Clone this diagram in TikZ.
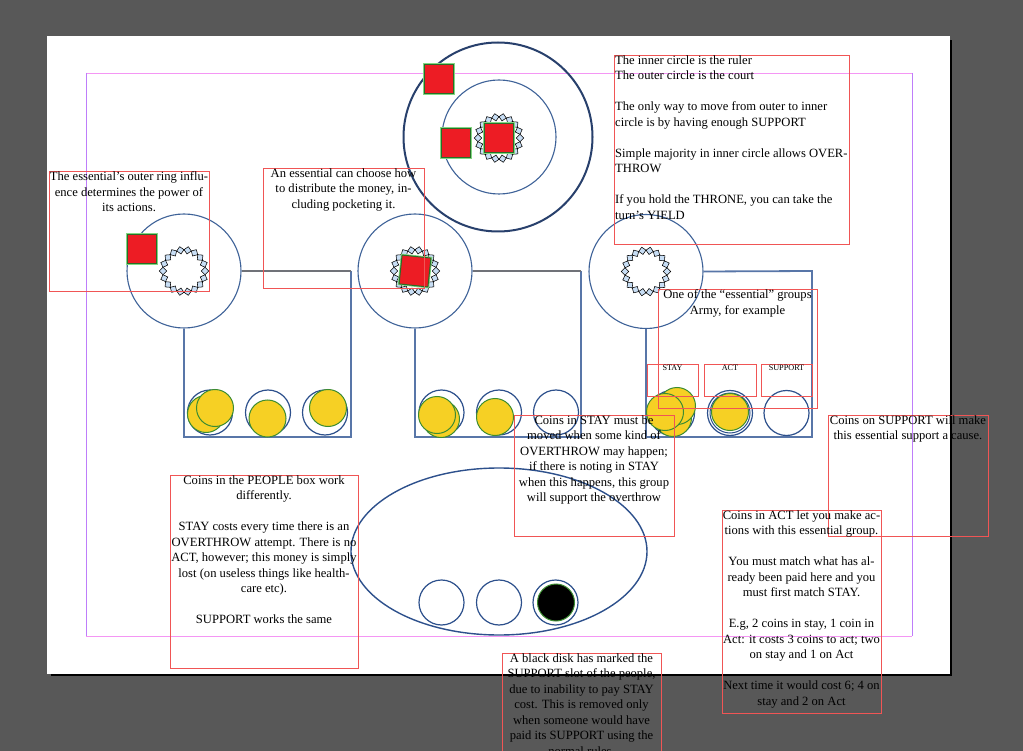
\documentclass[tikz,border=0pt]{standalone}
\usepackage{fontspec}
\setmainfont{Liberation Serif}
\usetikzlibrary{shapes.geometric}
\definecolor{bggray}{RGB}{88,88,88}
\definecolor{framered}{RGB}{240,85,85}
\definecolor{guidemag}{RGB}{244,150,244}
\definecolor{guidevio}{RGB}{190,125,250}
\definecolor{ringblue}{RGB}{62,98,152}
\definecolor{courtblue}{RGB}{40,64,108}
\definecolor{boxblue}{RGB}{88,118,168}
\definecolor{boxgray}{RGB}{112,114,120}
\definecolor{slotblue}{RGB}{45,80,140}
\definecolor{coinfill}{RGB}{246,208,36}
\definecolor{coinedge}{RGB}{60,140,50}
\definecolor{sqred}{RGB}{237,28,36}
\definecolor{sqedge}{RGB}{40,110,40}
\definecolor{sqglow}{RGB}{130,215,130}
\definecolor{bitblue}{RGB}{200,222,245}
\tikzset{
 ring/.style={circle, draw=ringblue, line width=1.1pt, minimum size=114pt, inner sep=0pt},
 slot/.style={circle, draw=slotblue, line width=1.2pt, minimum size=45pt, inner sep=0pt},
 coin/.style={circle, fill=coinfill, draw=coinedge, line width=1pt, minimum size=37pt, inner sep=0pt},
 redsq/.style={rectangle, fill=sqred, draw=sqedge, line width=1pt, minimum size=29pt, inner sep=0pt, preaction={draw=sqglow, line width=2.6pt}},
 bit/.style={rectangle, draw=black, fill=bitblue, line width=0.55pt, minimum size=5.2pt, inner sep=0pt},
 frame/.style={draw=framered, line width=0.8pt},
 txt/.style={font=\fontsize{12.6pt}{15.5pt}\selectfont, align=center, inner sep=0pt, anchor=north},
 lbl/.style={font=\fontsize{8.2pt}{9pt}\selectfont, inner sep=0pt, anchor=north},
 boxedge/.style={draw=boxblue, line width=1.8pt},
 boxtop/.style={draw=boxgray, line width=1.8pt},
}
\newcommand\starburst[2]{%
  \foreach \a in {0,20,...,340}{\node[bit, rotate=\a+45] (#1-\a) at ([shift={(\a:21pt)}]#2) {};}}
\begin{document}
\begin{tikzpicture}[x=1pt,y=-1pt]
\clip (0,0) rectangle (1023,751);
\fill[bggray] (0,0) rectangle (1023,751);
\fill[black] (51,40) rectangle (952,676);
\fill[white] (47,36) rectangle (950,674);
% guides
\draw[guidemag, line width=0.8pt] (86,73) -- (912,73) (86,636) -- (912,636);
\draw[guidevio, line width=0.8pt] (86,73) -- (86,636) (912,73) -- (912,636);

% court
\node[circle, draw=courtblue, line width=2pt, minimum size=189pt, inner sep=0pt] (court) at (498,137) {};
\node[ring] (ruler) at (499,137) {};
\coordinate (cT) at (499,138);
\starburst{sT}{cT}
\node[redsq] (qa) at (439,79) {};
\node[redsq] (qb) at (456,143) {};
\node[redsq] (qc) at (cT) {};

% left group
\node[ring] (gL) at (184,271) {};
\starburst{sL}{gL.center}
\node[redsq] (qd) at (142,249) {};
\coordinate (bL1) at (351,271);
\coordinate (bL2) at (351,437);
\coordinate (bL3) at (184,437);
\draw[boxedge] (bL1) -- (bL2) -- (bL3) -- (gL.south);
\draw[boxtop] (gL.east) -- (bL1);
\node[slot] (sL1) at (210,412.5) {};
\node[slot] (sL2) at (268,412.5) {};
\node[slot] (sL3) at (325,412.5) {};
\node[coin] (cL1) at (206,414) {};
\node[coin] (cL2) at (215,408) {};
\node[coin] (cL3) at (267.5,418.5) {};
\node[coin] (cL4) at (328,408) {};

% middle group
\node[ring] (gM) at (415,271) {};
\starburst{sM}{gM.center}
\node[redsq, rotate=-6] (qe) at (gM.center) {};
\coordinate (bM1) at (581,271);
\coordinate (bM2) at (581,437);
\coordinate (bM3) at (415,437);
\draw[boxedge] (bM1) -- (bM2) -- (bM3) -- (gM.south);
\draw[boxtop] (gM.east) -- (bM1);
\node[slot] (sM1) at (441.5,412.5) {};
\node[slot] (sM2) at (499,412.5) {};
\node[slot] (sM3) at (556,412.5) {};
\node[coin] (cM1) at (441,419) {};
\node[coin] (cM2) at (437,415) {};
\node[coin] (cM3) at (495,417) {};

% right group
\node[ring] (gR) at (646,271.5) {};
\starburst{sR}{gR.center}
\coordinate (bR1) at (812,271);
\coordinate (bR2) at (812,437);
\coordinate (bR3) at (646,437);
\draw[boxedge] (gR.east) -- (bR1) -- (bR2) -- (bR3) -- (gR.south);
\node[slot] (sR1) at (672,413) {};
\node[slot] (sR2) at (730,413) {};
\node[circle, draw=slotblue, line width=1pt, minimum size=40pt, inner sep=0pt] (sR2b) at (730,413) {};
\node[slot] (sR3) at (786.5,413) {};
\node[coin] (cR1) at (673,418) {};
\node[coin] (cR2) at (677,406) {};
\node[coin] (cR3) at (665,412) {};
\node[coin] (cR4) at (730,412) {};

% people
\node[ellipse, draw=slotblue, line width=1.4pt, minimum width=296pt, minimum height=167pt, inner sep=0pt] (people) at (499,551.5) {};
\node[slot] (sP1) at (441.5,602.5) {};
\node[slot] (sP2) at (499,602.5) {};
\node[slot] (sP3) at (555.5,602.5) {};
\node[circle, fill=black, draw=coinedge, line width=1pt, minimum size=37pt, inner sep=0pt] (disk) at (556,602.5) {};

% slot label frames
\draw[frame] (647,364) rectangle (698,396);
\draw[frame] (704,364) rectangle (756,396);
\draw[frame] (761,364) rectangle (812,396);
\node[lbl] (lStay) at (672.5,364.5) {STAY};
\node[lbl] (lAct) at (730,364.5) {ACT};
\node[lbl] (lSup) at (786.5,364.5) {SUPPORT};

% text frames
\draw[frame] (614,55) rectangle (849,244);
\node[txt, anchor=north west, align=left] (tTop) at (615,55.5) {The inner circle is the ruler\\
The outer circle is the court\\[15.5pt]
The only way to move from outer to inner\\
circle is by having enough SUPPORT\\[15.5pt]
Simple majority in inner circle allows OVER-\\
THROW\\[15.5pt]
If you hold the THRONE, you can take the\\
turn’s YIELD};

\draw[frame] (49,171) rectangle (209,291);
\node[txt] (tLeft) at (129,171.5) {The essential’s outer ring influ-\\ence determines the power of\\its actions.};

\draw[frame] (263,168) rectangle (424,288);
\node[txt] (tMoney) at (343.5,168.5) {An essential can choose how\\to distribute the money, in-\\cluding pocketing it.};

\draw[frame] (658,289) rectangle (817,408);
\node[txt] (tEss) at (737.5,289.5) {One of the “essential” groups\\Army, for example};

\draw[frame] (514,415) rectangle (674,536);
\node[txt] (tStay) at (594,415.5) {Coins in STAY must be\\moved when some kind of\\OVERTHROW may happen;\\if there is noting in STAY\\when this happens, this group\\will support the overthrow};

\draw[frame] (828,415) rectangle (988,536);
\node[txt] (tSup) at (908,415.5) {Coins on SUPPORT will make\\this essential support a cause.};

\draw[frame] (722,510) rectangle (881,713);
\node[txt] (tAct) at (801.5,510.5) {Coins in ACT let you make ac-\\tions with this essential group.\\[15.5pt]
You must match what has al-\\ready been paid here and you\\must first match STAY.\\[15.5pt]
E.g, 2 coins in stay, 1 coin in\\Act: it costs 3 coins to act; two\\on stay and 1 on Act\\[15.5pt]
Next time it would cost 6; 4 on\\stay and 2 on Act};

\draw[frame] (170,475) rectangle (358,668);
\node[txt] (tPeople) at (264,475.5) {Coins in the PEOPLE box work\\differently.\\[15.5pt]
STAY costs every time there is an\\OVERTHROW attempt. There is no\\ACT, however; this money is simply\\lost (on useless things like health-\\care etc).\\[15.5pt]
SUPPORT works the same};

\draw[frame] (502,653) rectangle (661,800);
\node[txt] (tDisk) at (581.5,653.5) {A black disk has marked the\\SUPPORT slot of the people,\\due to inability to pay STAY\\cost. This is removed only\\when someone would have\\paid its SUPPORT using the\\normal rules.};
\end{tikzpicture}
\end{document}
